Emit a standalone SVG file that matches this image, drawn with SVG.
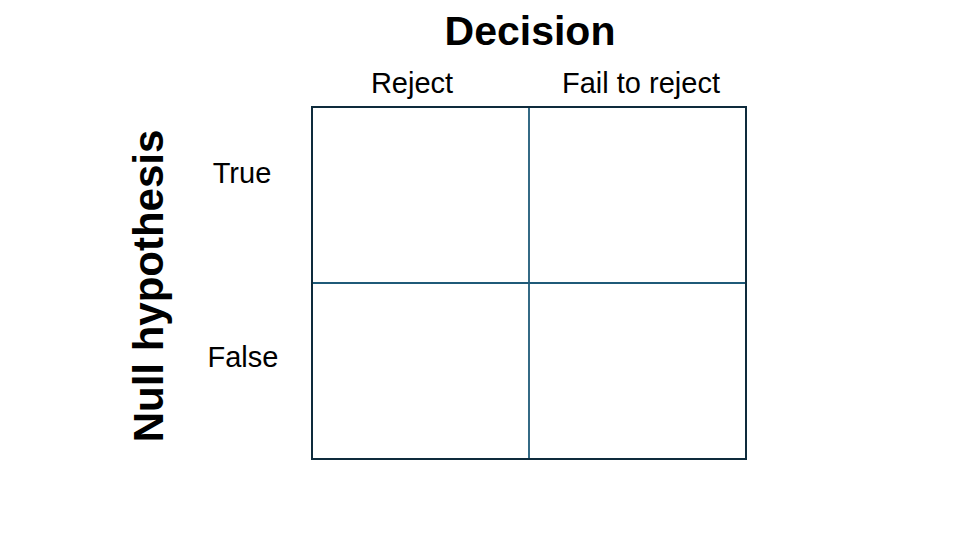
<svg xmlns="http://www.w3.org/2000/svg" width="960" height="540" viewBox="0 0 960 540">
<style>
.lbl{font-family:"Liberation Sans",Arial,sans-serif;font-size:29px;fill:#000;text-anchor:middle}
.ttl{font-family:"Liberation Sans",Arial,sans-serif;font-size:41px;font-weight:bold;fill:#000;text-anchor:middle}
.inner{stroke:#1f5a78;stroke-width:1.8;fill:none}
.outer{stroke:#0e2b3c;stroke-width:2;fill:none}
</style>
<rect width="960" height="540" fill="#fff"/>
<g id="title"><text class="ttl" x="530" y="45">Decision</text></g>
<g id="ytitle"><text class="ttl" transform="translate(163,286) rotate(-90)" x="0" y="0" style="font-size:42px">Null hypothesis</text></g>
<g id="col-reject"><text class="lbl" x="412" y="93">Reject</text></g>
<g id="col-fail"><text class="lbl" x="641" y="93">Fail to reject</text></g>
<g id="row-true"><text class="lbl" x="242" y="183">True</text></g>
<g id="row-false"><text class="lbl" x="243" y="367">False</text></g>
<g id="grid">
<line class="inner" x1="529" y1="107" x2="529" y2="459"/>
<line class="inner" x1="312" y1="283" x2="746" y2="283"/>
<rect class="outer" x="312" y="107" width="434" height="352"/>
</g>
</svg>
